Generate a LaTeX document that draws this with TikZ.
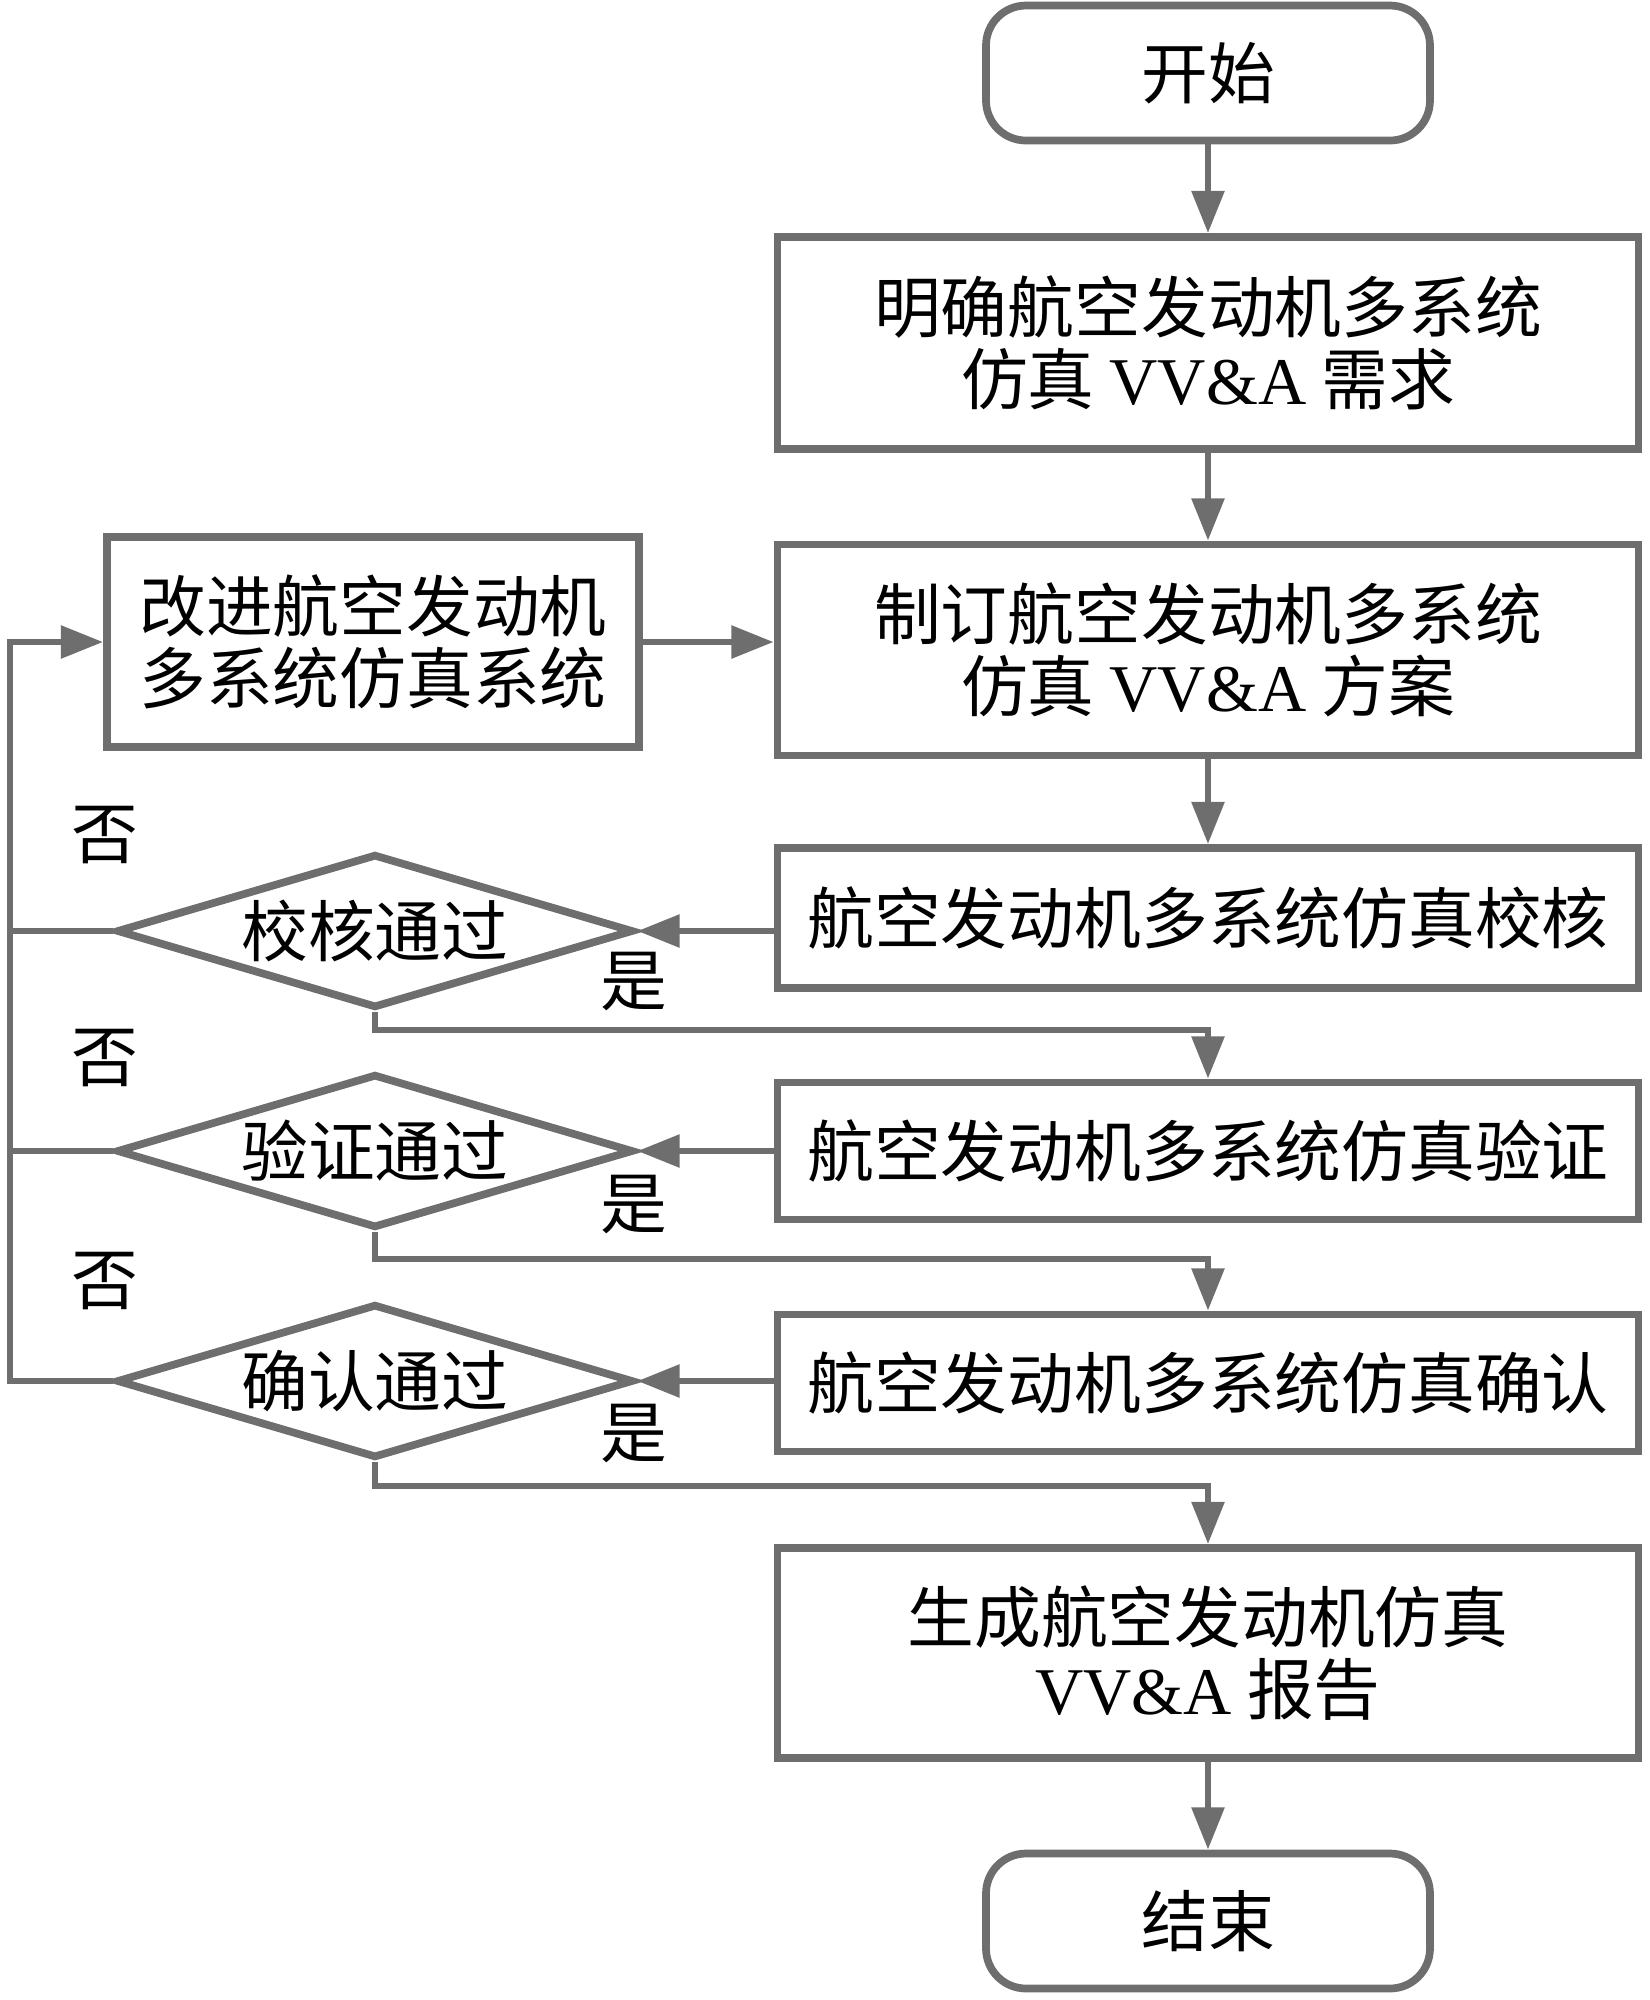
\documentclass[tikz,border=0pt]{standalone}
\usepackage{fontspec}
\setmainfont{Noto Sans CJK SC}
\newfontfamily\lat{Liberation Serif}
\usetikzlibrary{shapes.geometric,arrows.meta}
\definecolor{lc}{HTML}{6E6E6E}
\begin{document}
\begin{tikzpicture}[x=0.1mm,y=-0.1mm,
  every node/.style={font=\fontsize{19}{20.5}\selectfont, text=black, inner sep=0pt},
  box/.style={draw=lc, line width=2.2pt, rectangle, minimum width=86.1mm, align=center},
  term/.style={draw=lc, line width=2.2pt, rectangle, rounded corners=4mm, minimum width=44.4mm, minimum height=13.5mm},
  dec/.style={draw=lc, line width=2.2pt, diamond, shape aspect=3.36, minimum width=51.7mm, minimum height=15.4mm},
  conn/.style={draw=lc, line width=1.9pt},
  arr/.style={conn, -{Triangle[length=12pt,width=9pt]}},
  lbl/.style={font=\fontsize{19}{20.5}\selectfont}]
\useasboundingbox (0,0) rectangle (1650,2000);

\node[term] (start) at (1208,73) {开始};
\node[box, minimum height=21.2mm] (b1) at (1208,343) {明确航空发动机多系统\\仿真 {\lat VV\&A} 需求};
\node[box, minimum height=21.1mm] (b2) at (1208,650) {制订航空发动机多系统\\仿真 {\lat VV\&A} 方案};
\node[box, minimum width=53.2mm, minimum height=21mm] (imp) at (373,642) {改进航空发动机\\多系统仿真系统};
\node[box, minimum height=14mm] (b3) at (1208,918) {航空发动机多系统仿真校核};
\node[box, minimum height=13.7mm] (b4) at (1208,1151) {航空发动机多系统仿真验证};
\node[box, minimum height=13.7mm] (b5) at (1208,1383) {航空发动机多系统仿真确认};
\node[box, minimum height=21mm] (b6) at (1208,1653) {生成航空发动机仿真\\{\lat VV\&A} 报告};
\node[term] (end) at (1208,1921) {结束};

\node[dec] (d1) at (375,931) {校核通过};
\node[dec] (d2) at (375,1151) {验证通过};
\node[dec] (d3) at (375,1381) {确认通过};

\node[lbl] (n1) at (105,835) {否};
\node[lbl] (n2) at (105,1058) {否};
\node[lbl] (n3) at (105,1281) {否};
\node[lbl] (y1) at (634,982) {是};
\node[lbl] (y2) at (634,1205) {是};
\node[lbl] (y3) at (634,1434) {是};

\coordinate (L) at (10,642);

\draw[arr] (start.south) -- (b1.north);
\draw[arr] (b1.south) -- (b2.north);
\draw[arr] (imp.east) -- (imp.east -| b2.west);
\draw[arr] (b2.south) -- (b3.north);
\draw[arr] (b3.west |- d1.east) -- (d1.east);
\draw[arr] (b4.west |- d2.east) -- (d2.east);
\draw[arr] (b5.west |- d3.east) -- (d3.east);
\draw[arr] (d1.south) -- ++(0,18) -| (b4.north);
\draw[arr] (d2.south) -- ++(0,27) -| (b5.north);
\draw[arr] (d3.south) -- ++(0,24) -| (b6.north);
\draw[arr] (b6.south) -- (end.north);
\draw[conn] (d1.west) -- (d1.west -| L);
\draw[conn] (d2.west) -- (d2.west -| L);
\draw[arr] (d3.west) -| (L) -- (imp.west);
\end{tikzpicture}
\end{document}
